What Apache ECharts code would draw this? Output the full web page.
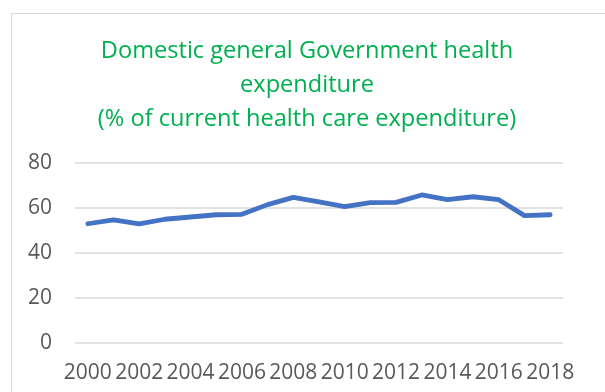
<!DOCTYPE html>
<html><head><meta charset="utf-8">
<script src="https://cdn.jsdelivr.net/npm/echarts@6/dist/echarts.min.js"></script>
<style>
html,body{margin:0;padding:0;background:#fff;overflow:hidden}
#frame{position:absolute;left:11px;top:13px;width:700px;height:500px;border:1px solid #d9d9d9;box-sizing:border-box}
#c{position:absolute;left:0;top:0;width:605px;height:392px}
</style></head>
<body>
<div id="frame"></div>
<div id="c"></div>
<script>
const years = ['2000','2001','2002','2003','2004','2005','2006','2007','2008','2009','2010','2011','2012','2013','2014','2015','2016','2017','2018'];
const values = [53.0,54.7,52.9,55.0,56.0,57.0,57.2,61.5,64.7,62.7,60.6,62.4,62.5,65.8,63.7,65.0,63.7,56.6,57.0];
const titleText = 'Domestic general Government health\nexpenditure\n(% of current health care expenditure)';
const yTicks = {min:0, max:80, interval:20};

const chart = echarts.init(document.getElementById('c'), null, {renderer:'canvas'});
chart.setOption({
  animation:false,
  backgroundColor:'transparent',
  title:{
    text:titleText,
    left:302, top:29, textAlign:'center',
    textStyle:{color:'#00B050', fontFamily:'Open Sans', fontSize:23.6, fontWeight:'normal', lineHeight:34}
  },
  grid:{left:75, right:42, top:163, bottom:49, containLabel:false},
  xAxis:{
    type:'category', data:years, boundaryGap:true,
    axisLine:{show:false}, axisTick:{show:false},
    axisLabel:{interval:1, color:'#595959', fontFamily:'Open Sans', fontSize:21, margin:20}
  },
  yAxis:{
    type:'value', min:yTicks.min, max:yTicks.max, interval:yTicks.interval,
    axisLine:{show:false}, axisTick:{show:false},
    splitLine:{lineStyle:{color:'#d9d9d9', width:1.5}},
    axisLabel:{color:'#595959', fontFamily:'Open Sans', fontSize:21, margin:23}
  },
  series:[{
    type:'line', data:values, symbol:'none', smooth:false,
    lineStyle:{color:'#4472C4', width:4.8, cap:'round', join:'round'}
  }]
});
</script>
</body></html>
